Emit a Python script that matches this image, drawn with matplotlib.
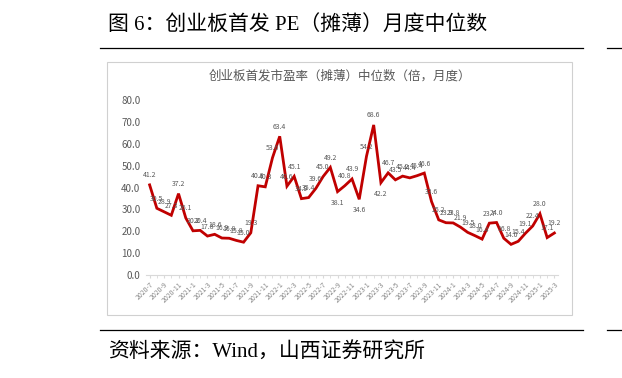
import matplotlib.pyplot as plt
import matplotlib as mpl
from matplotlib.patches import Rectangle
from matplotlib.lines import Line2D

mpl.rcParams['font.family'] = ['Noto Sans CJK SC', 'DejaVu Sans']

# ---------------------------------------------------------------------------
# Data: monthly median IPO PE (diluted), ChiNext, 2020-7 .. 2025-3
# ---------------------------------------------------------------------------
months = []
for y in range(2020, 2026):
    for m in range(1, 13):
        if (y, m) < (2020, 7) or (y, m) > (2025, 3):
            continue
        months.append(f'{y}-{m}')

pe = [41.2, 30.5, 28.9, 27.3, 37.2, 26.1,
      20.2, 20.4, 17.8, 18.6, 16.9, 16.8, 15.8, 15.0, 19.3, 40.8, 40.3, 53.6,
      63.4, 40.6, 45.1, 34.9, 35.4, 39.6, 45.0, 49.2, 38.1, 40.8, 43.9, 34.6,
      54.2, 68.6, 42.2, 46.7, 43.5, 45.2, 44.4, 45.4, 46.6, 33.6, 25.2, 23.9,
      23.8, 21.9, 19.5, 18.0, 16.4, 23.7, 24.0, 16.8, 14.0, 15.4, 19.1, 22.4,
      28.0, 17.1, 19.2]

# labels drawn under the point instead of above
below = {'2023-3', '2022-9', '2022-12'}

yticks = [0, 10, 20, 30, 40, 50, 60, 70, 80]

# ---------------------------------------------------------------------------
# Figure
# ---------------------------------------------------------------------------
W, H = 622, 378
fig = plt.figure(figsize=(W / 100, H / 100), dpi=100)
fig.patch.set_facecolor('white')


def fx(px):
    return px / W


def fy(py):
    return 1 - py / H


latin = ['Liberation Serif', 'Noto Sans CJK SC']
fig.text(fx(108), fy(25), '图 6：创业板首发 PE（摊薄）月度中位数',
         fontsize=15, family=latin, va='center', ha='left', color='black')
fig.add_artist(Line2D([fx(100), fx(583)], [fy(48), fy(48)], color='black', lw=0.9))
fig.add_artist(Line2D([fx(607), fx(622)], [fy(48), fy(48)], color='black', lw=0.9))
fig.add_artist(Line2D([fx(100), fx(583)], [fy(330), fy(330)], color='black', lw=0.9))
fig.add_artist(Line2D([fx(607), fx(622)], [fy(330), fy(330)], color='black', lw=0.9))
fig.text(fx(108), fy(353), '资料来源：Wind，山西证券研究所',
         fontsize=15, family=latin, va='center', ha='left', color='black')

# chart frame
fig.add_artist(Rectangle((fx(107), fy(315)), fx(572) - fx(107), fy(62) - fy(315),
                         transform=fig.transFigure, fill=False,
                         edgecolor='#d0d0d0', lw=0.8))
fig.text(fx(340), fy(76), '创业板首发市盈率（摊薄）中位数（倍，月度）',
         fontsize=9, color='#595959', ha='center', va='center')

ax = fig.add_axes([fx(146), fy(275), fx(558) - fx(146), fy(100) - fy(275)])
x = list(range(len(months)))
ax.plot(x, pe, color='#C00000', lw=2.0, solid_joinstyle='miter')

for xi, m, v in zip(x, months, pe):
    if m in below:
        ax.annotate(f'{v:.1f}', (xi, v), xytext=(0, -5), textcoords='offset points',
                    ha='center', va='top', fontsize=5, color='#595959')
    else:
        ax.annotate(f'{v:.1f}', (xi, v), xytext=(0, 4), textcoords='offset points',
                    ha='center', va='bottom', fontsize=5, color='#595959')

ax.set_xlim(-0.5, len(months) - 0.5)
ax.set_ylim(0, 80)
ax.set_yticks(yticks)
ax.set_yticklabels([f'{t:.1f}' for t in yticks], fontsize=7, color='#595959')
ax.set_xticks(x[::2])
ax.set_xticklabels(months[::2], rotation=45, ha='right', rotation_mode='anchor',
                   fontsize=5, color='#888888')
ax.set_xticks(x, minor=True)
ax.tick_params(axis='x', which='both', length=2, color='#d9d9d9', pad=2)
ax.tick_params(axis='y', length=0, pad=4)

for s in ['top', 'right', 'left']:
    ax.spines[s].set_visible(False)
ax.spines['bottom'].set_color('#d9d9d9')
ax.spines['bottom'].set_linewidth(0.8)
ax.patch.set_alpha(0)

fig.savefig('out.png', dpi=100, facecolor='white')
